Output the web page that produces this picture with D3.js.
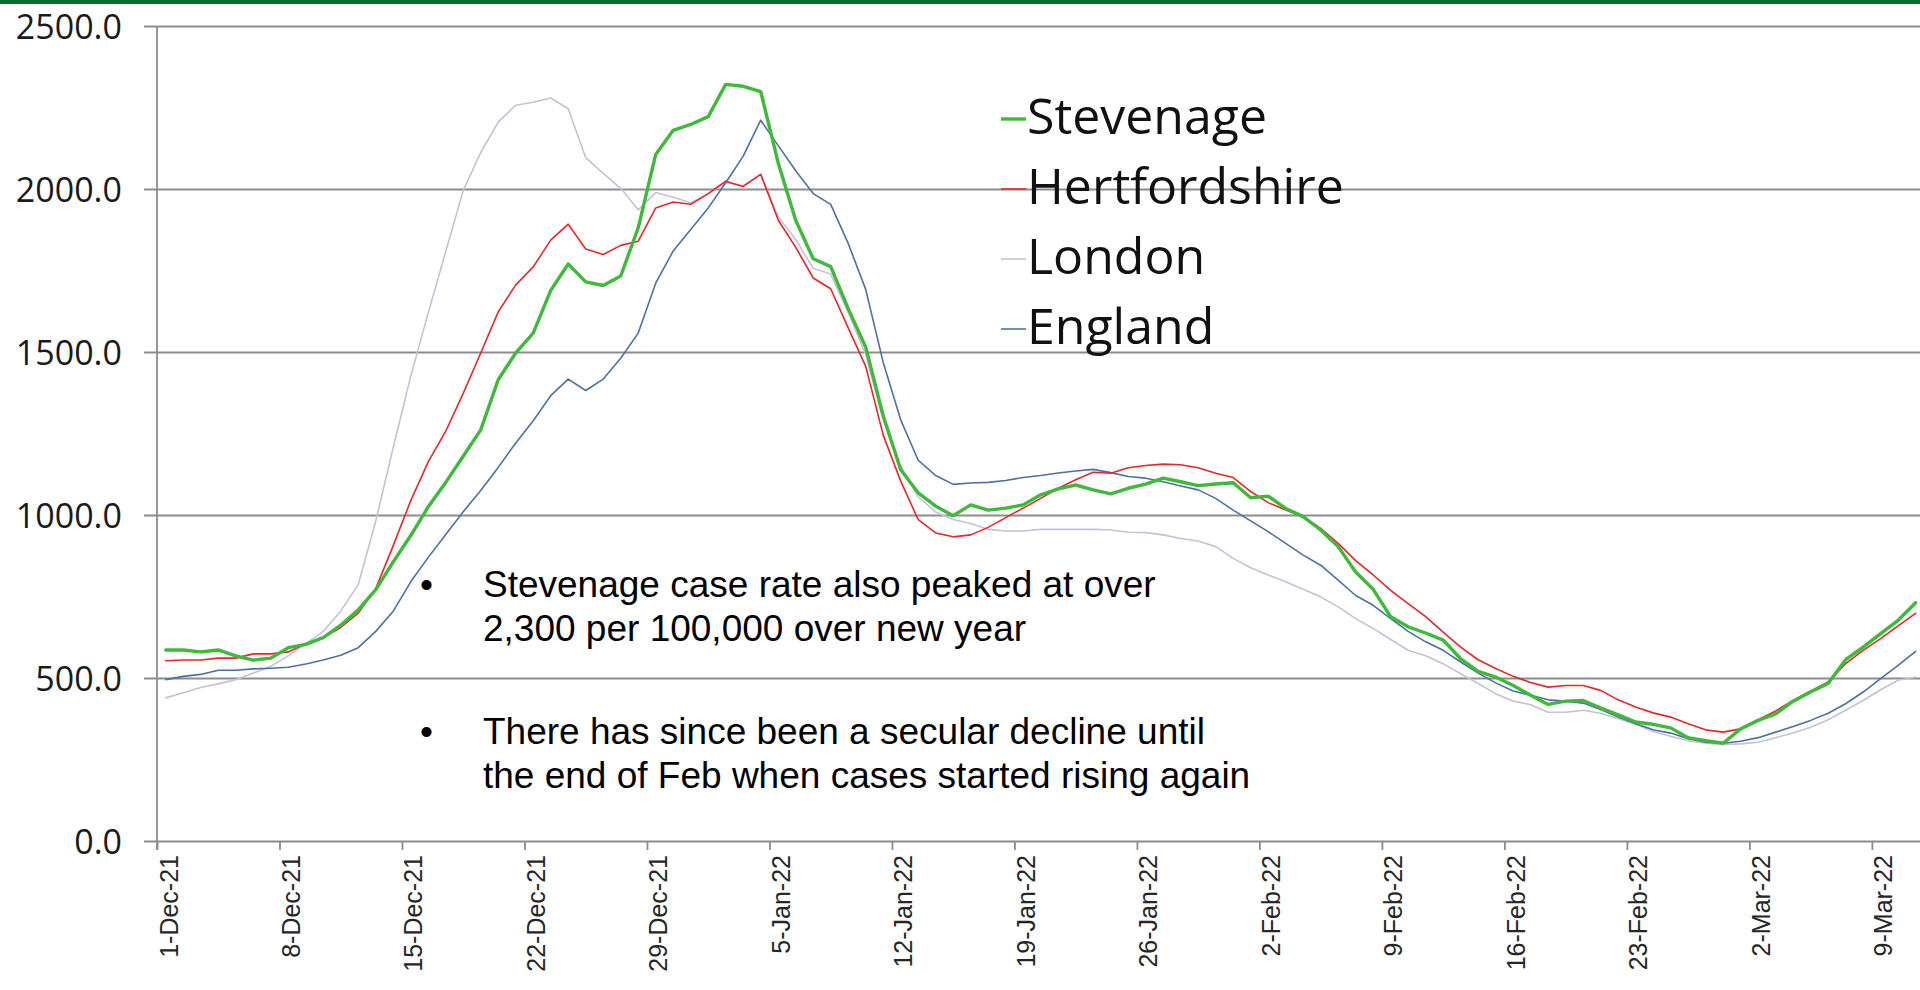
<!DOCTYPE html>
<html lang="en">
<head>
<meta charset="UTF-8">
<title>Case rates per 100,000</title>
<script src="https://d3js.org/d3.v7.min.js"></script>
<style>
  body { margin: 0; background: #fff; overflow: hidden; }
  svg { display: block; }
  .ylab text { font-family: "Open Sans", sans-serif; font-size: 34px; fill: #1a1a1a; }
  .xlab text { font-family: "Liberation Sans", Arial, sans-serif; font-size: 25px; fill: #262626; }
  .legend text { font-family: "Open Sans", sans-serif; font-size: 50px; fill: #111; }
  .note text { font-family: "Liberation Sans", Arial, sans-serif; font-size: 37px; fill: #000; }
</style>
</head>
<body>
<svg width="1920" height="990"></svg>
<script>
// daily dates 1-Dec-21 .. 11-Mar-22
const dates = d3.utcDays(Date.UTC(2021, 11, 1), Date.UTC(2022, 2, 12));

const tickLabels = ["1-Dec-21", "8-Dec-21", "15-Dec-21", "22-Dec-21", "29-Dec-21", "5-Jan-22", "12-Jan-22",
  "19-Jan-22", "26-Jan-22", "2-Feb-22", "9-Feb-22", "16-Feb-22", "23-Feb-22", "2-Mar-22", "9-Mar-22"];
const yTicks = [0, 500, 1000, 1500, 2000, 2500];

const stevenage = [586, 586, 580, 586, 568, 555, 561, 593, 603, 624, 662, 709, 771, 856, 937, 1025, 1100, 1180,
  1261, 1415, 1497, 1558, 1689, 1770, 1715, 1704, 1733, 1881, 2106, 2180, 2198, 2222, 2321, 2315, 2299,
  2080, 1904, 1786, 1762, 1633, 1515, 1304, 1139, 1068, 1027, 998, 1031, 1015, 1021, 1031, 1062, 1080,
  1092, 1077, 1065, 1082, 1095, 1113, 1102, 1090, 1095, 1099, 1053, 1058, 1020, 995, 954, 903, 825,
  772, 688, 657, 638, 616, 559, 520, 503, 477, 447, 419, 429, 431, 408, 387, 365, 358,
  347, 317, 308, 300, 344, 370, 390, 429, 457, 483, 556, 595, 636, 677, 731];

const hertfordshire = [553, 555, 555, 561, 561, 574, 574, 580, 605, 624, 655, 699, 774, 906, 1044, 1163, 1257, 1373,
  1497, 1623, 1706, 1761, 1843, 1892, 1816, 1799, 1827, 1840, 1942, 1960, 1953, 1986, 2024, 2008, 2045,
  1905, 1821, 1727, 1694, 1574, 1456, 1245, 1104, 986, 945, 933, 939, 962, 992, 1021, 1051, 1082,
  1108, 1131, 1128, 1145, 1152, 1156, 1154, 1145, 1128, 1115, 1072, 1038, 1015, 995, 959, 913, 860,
  816, 769, 728, 688, 641, 595, 556, 529, 505, 486, 472, 477, 477, 462, 433, 411, 393,
  380, 360, 341, 334, 344, 372, 399, 431, 460, 488, 544, 585, 621, 660, 698];

const london = [439, 455, 471, 482, 495, 515, 536, 568, 605, 643, 705, 787, 981, 1207, 1426, 1620, 1808, 1995,
  2112, 2205, 2257, 2266, 2279, 2246, 2096, 2048, 2002, 1936, 1989, 1975, 1958, 1985, 2020, 2010, 2045,
  1915, 1845, 1757, 1739, 1621, 1492, 1292, 1151, 1056, 1009, 986, 974, 956, 951, 951, 956, 956,
  956, 956, 954, 947, 946, 939, 928, 920, 903, 867, 838, 816, 795, 772, 749, 718, 682,
  652, 618, 585, 568, 544, 513, 483, 452, 429, 418, 395, 395, 401, 392, 375, 358, 336,
  321, 308, 300, 296, 298, 303, 317, 331, 349, 372, 401, 431, 464, 493, 503];

const england = [495, 505, 511, 524, 524, 528, 530, 533, 543, 555, 570, 593, 643, 705, 795, 870, 940, 1010,
  1075, 1146, 1221, 1289, 1366, 1417, 1382, 1417, 1481, 1558, 1711, 1810, 1876, 1942, 2019, 2101, 2211,
  2133, 2056, 1986, 1953, 1833, 1692, 1468, 1292, 1168, 1121, 1094, 1098, 1100, 1106, 1115, 1121, 1129,
  1135, 1140, 1130, 1118, 1113, 1102, 1089, 1077, 1051, 1015, 982, 949, 913, 877, 846, 800, 753,
  723, 682, 643, 611, 585, 549, 515, 485, 460, 447, 433, 429, 423, 403, 380, 360, 341,
  331, 314, 303, 300, 306, 317, 334, 351, 370, 392, 421, 457, 498, 539, 582];

const seriesNames = ["Stevenage", "Hertfordshire", "London", "England"];
const seriesColors = ["#3fb93b", "#e8262b", "#c7c0d9", "#4d70a4"];
const seriesWidths = [3.4, 1.6, 1.6, 1.6];
const seriesValues = [stevenage, hertfordshire, london, england];

const notes = [
  ["Stevenage case rate also peaked at over", "2,300 per 100,000 over new year"],
  ["There has since been a secular decline until", "the end of Feb when cases started rising again"]
];

const svg = d3.select("svg");
const W = 1920;

// top band
svg.append("rect").attr("x", 0).attr("y", 0).attr("width", W).attr("height", 4).attr("fill", "#0a6a30");

const x0 = 157;
const pxPerDay = 17.5;
const x = d3.scaleUtc()
  .domain([dates[0], d3.utcHour.offset(dates[0], Math.round((W - x0) / pxPerDay * 24))])
  .range([x0, W]);
const y = d3.scaleLinear().domain([0, 2500]).range([841, 26]);

// gridlines + y labels
const yAxis = svg.append("g").attr("class", "ylab")
  .attr("transform", "translate(144,0)")
  .call(d3.axisLeft(y).tickValues(yTicks).tickFormat(d3.format(".1f"))
    .tickSize(-(W - 144)).tickPadding(22));
yAxis.select(".domain").remove();
yAxis.selectAll(".tick line").attr("stroke", "#8c8c8c").attr("stroke-width", 1.8);
yAxis.selectAll(".tick text").attr("dy", "0.36em");

// vertical axis line
svg.append("line").attr("x1", x0).attr("x2", x0).attr("y1", y(2500)).attr("y2", y(0) + 9)
  .attr("stroke", "#8c8c8c").attr("stroke-width", 1.8);

// x axis
const parseTick = d3.utcParse("%d-%b-%y");
const tickDates = tickLabels.map(parseTick);
const xAxis = svg.append("g").attr("class", "xlab")
  .attr("transform", `translate(0,${y(0)})`)
  .call(d3.axisBottom(x).tickValues(tickDates).tickFormat((d, i) => tickLabels[i]).tickSize(9));
xAxis.select(".domain").remove();
xAxis.selectAll(".tick line").attr("stroke", "#8c8c8c").attr("stroke-width", 1.8);
xAxis.selectAll(".tick text")
  .attr("transform", "rotate(-90)")
  .attr("text-anchor", "end")
  .attr("x", -14).attr("y", 20).attr("dy", 0)
  .attr("dx", 0);

// lines, points sit mid-day
const line = d3.line()
  .x((d, i) => x(d3.utcHour.offset(dates[i], 12)))
  .y(d => y(d))
  .curve(d3.curveLinear);

const drawOrder = [2, 3, 1, 0];
svg.append("g").selectAll("path")
  .data(drawOrder)
  .join("path")
  .attr("d", k => line(seriesValues[k]))
  .attr("fill", "none")
  .attr("stroke", k => seriesColors[k])
  .attr("stroke-width", k => seriesWidths[k])
  .attr("stroke-linejoin", "round")
  .attr("stroke-linecap", "round");

// legend
const legend = svg.append("g").attr("class", "legend");
seriesNames.forEach((name, i) => {
  const base = 134 + i * 70;
  legend.append("line")
    .attr("x1", 1001).attr("x2", 1026).attr("y1", base - 15).attr("y2", base - 15)
    .attr("stroke", seriesColors[i]).attr("stroke-width", seriesWidths[i]);
  legend.append("text").attr("x", 1027).attr("y", base).text(name);
});

// bullet notes
const note = svg.append("g").attr("class", "note");
const noteTops = [597, 744];
notes.forEach((lines, i) => {
  note.append("text").attr("x", 420).attr("y", noteTops[i]).text("\u2022");
  lines.forEach((t, j) => {
    note.append("text").attr("x", 483).attr("y", noteTops[i] + j * 44).text(t);
  });
});
</script>
</body>
</html>
